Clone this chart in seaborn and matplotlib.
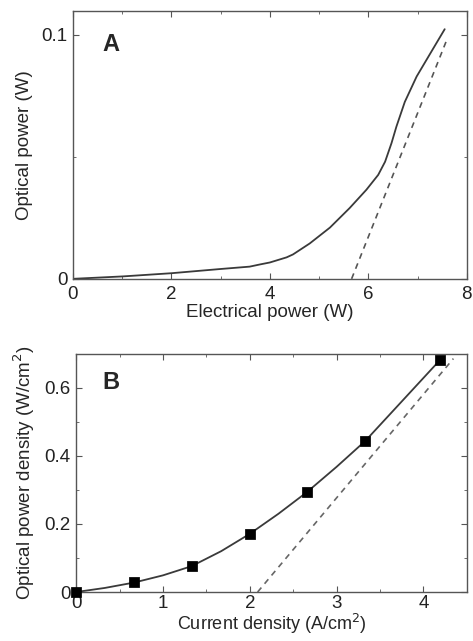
import matplotlib
matplotlib.use("Agg")
import matplotlib.pyplot as plt
import pandas as pd
import seaborn as sns
from matplotlib.ticker import MultipleLocator

# panel A: optical power vs electrical power
elec_power = [0.0, 1.02, 2.0, 2.98, 3.59, 3.8, 4.0, 4.34, 4.47, 4.81, 5.22, 5.62, 5.96,
              6.2, 6.34, 6.47, 6.57, 6.74, 6.98, 7.25, 7.55]
opt_power = [0.0, 0.0010, 0.0023, 0.0040, 0.0050, 0.0059, 0.0067, 0.0088, 0.0100, 0.0145,
             0.0210, 0.0290, 0.0365, 0.0426, 0.0480, 0.0556, 0.0624, 0.0725, 0.0829, 0.0921,
             0.1023]
fit_a_x = [5.66, 7.58]
fit_a_y = [0.0, 0.0973]

# panel B: optical power density vs current density
curr_density = [0.0, 0.67, 1.33, 2.0, 2.66, 3.33, 4.195]
opt_density = [0.0, 0.028, 0.076, 0.171, 0.294, 0.444, 0.683]
curve_b_x = [0.0, 0.33, 0.67, 1.0, 1.33, 1.67, 2.0, 2.33, 2.66, 3.0, 3.33, 3.75, 4.195]
curve_b_y = [0.0, 0.012, 0.028, 0.049, 0.076, 0.12, 0.171, 0.23, 0.294, 0.368, 0.444, 0.56, 0.683]
fit_b_x = [2.09, 4.345]
fit_b_y = [0.0, 0.686]

sns.set_style("ticks")
plt.rcParams['font.family'] = ['Liberation Sans', 'DejaVu Sans']

line_col = '#3a3a3a'
fig = plt.figure(figsize=(4.73, 6.41), dpi=100)
ax1 = fig.add_axes([0.154, 0.565, 0.833, 0.418])
ax2 = fig.add_axes([0.161, 0.0764, 0.826, 0.3716])

df_a = pd.DataFrame({'x': elec_power, 'y': opt_power})
sns.lineplot(data=df_a, x='x', y='y', ax=ax1, color=line_col, lw=1.3, estimator=None, sort=False)
ax1.plot(fit_a_x, fit_a_y, ls=(0, (3.5, 3)), color='#555555', lw=1.2)
ax1.set_xlim(0, 8)
ax1.set_ylim(0, 0.1098)
ax1.set_xticks([0, 2, 4, 6, 8])
ax1.set_yticks([0, 0.1])
ax1.set_yticklabels(['0', '0.1'])
ax1.xaxis.set_minor_locator(MultipleLocator(1))
ax1.yaxis.set_minor_locator(MultipleLocator(0.05))
ax1.set_xlabel('Electrical power (W)', fontsize=13.5, labelpad=1)
ax1.set_ylabel('Optical power (W)', fontsize=13.5, labelpad=6)
ax1.text(0.075, 0.875, 'A', transform=ax1.transAxes, fontsize=17, fontweight='bold', va='center')

df_b = pd.DataFrame({'x': curve_b_x, 'y': curve_b_y})
sns.lineplot(data=df_b, x='x', y='y', ax=ax2, color=line_col, lw=1.3, estimator=None, sort=False)
df_m = pd.DataFrame({'x': curr_density, 'y': opt_density})
sns.scatterplot(data=df_m, x='x', y='y', ax=ax2, marker='s', s=45, color='black', edgecolor='black',
                zorder=5, clip_on=False)
ax2.plot(fit_b_x, fit_b_y, ls=(0, (3.5, 3)), color='#666666', lw=1.2)
ax2.set_xlim(0, 4.5)
ax2.set_ylim(0, 0.7)
ax2.set_xticks([0, 1, 2, 3, 4])
ax2.set_yticks([0, 0.2, 0.4, 0.6])
ax2.set_yticklabels(['0', '0.2', '0.4', '0.6'])
ax2.xaxis.set_minor_locator(MultipleLocator(0.5))
ax2.yaxis.set_minor_locator(MultipleLocator(0.1))
ax2.set_xlabel('Current density (A/cm$^2$)', fontsize=13, labelpad=0)
ax2.set_ylabel('Optical power density (W/cm$^2$)', fontsize=13.5, labelpad=5)
ax2.text(0.066, 0.878, 'B', transform=ax2.transAxes, fontsize=17, fontweight='bold', va='center')

for ax in (ax1, ax2):
    for s in ax.spines.values():
        s.set_color('#555555')
        s.set_linewidth(1.0)
    ax.tick_params(which='both', direction='in', top=True, right=True, colors='#555555',
                   labelcolor='#222222', labelsize=13.5)
    ax.tick_params(axis='y', which='major', pad=4)
    ax.tick_params(which='major', length=4)
    ax.tick_params(which='minor', length=2.5)
ax1.tick_params(axis='x', which='major', pad=5)
ax2.tick_params(axis='x', which='major', pad=2)

fig.savefig('out.png', dpi=100)
